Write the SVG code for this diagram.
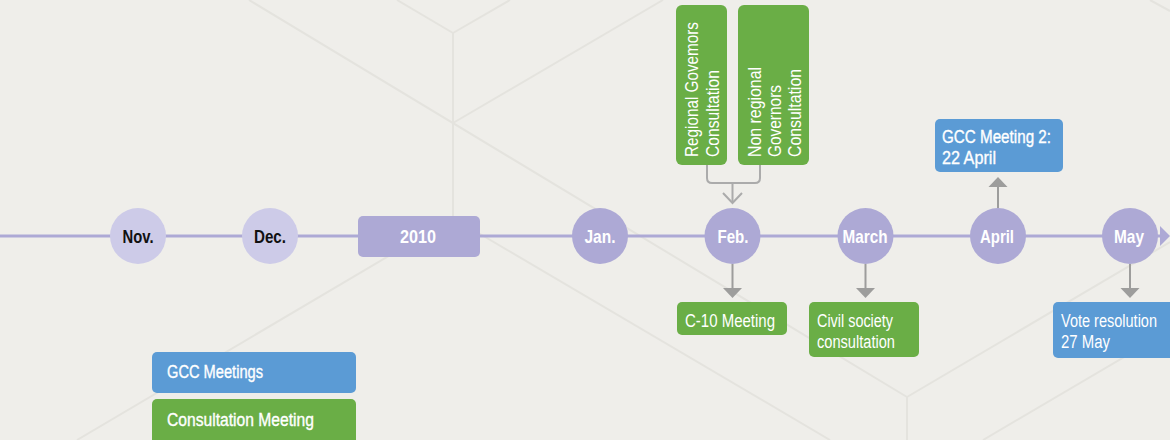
<svg xmlns="http://www.w3.org/2000/svg" width="1170" height="440" viewBox="0 0 1170 440">
<defs>
<style>
.bg{stroke:#E4E3DE;stroke-width:2;fill:none}
.tl{stroke:#ADA9D5;stroke-width:3;fill:none}
.m{fill:#ADA9D5}
.ml{fill:#CDCBE8}
.lbl{font-family:"Liberation Sans",Arial,sans-serif;font-weight:bold;font-size:18.5px;text-anchor:middle}
.w{fill:#FFFFFF}
.k{fill:#111111}
.green{fill:#6AAE46}
.blue{fill:#5B9BD5}
.t{font-family:"Liberation Sans",Arial,sans-serif;font-size:18px;fill:#FFFFFF}
.tb{font-family:"Liberation Sans",Arial,sans-serif;font-size:18px;fill:#FFFFFF;stroke:#FFFFFF;stroke-width:0.35}
.c{stroke:#9D9D9C;stroke-width:2;fill:none}
.ah{fill:#9D9D9C}
.oc{stroke:#ABABAB;stroke-width:2;fill:none}
</style>
</defs>
<rect x="0" y="0" width="1170" height="440" fill="#EFEEEA"/>
<g id="background">
<line class="bg" x1="249" y1="0" x2="907" y2="397"/>
<line class="bg" x1="397" y1="0" x2="453" y2="33"/>
<line class="bg" x1="453" y1="33" x2="510" y2="0"/>
<line class="bg" x1="453" y1="33" x2="453" y2="218"/>
<line class="bg" x1="453" y1="123" x2="663" y2="0"/>
<line class="bg" x1="453" y1="218" x2="77" y2="440"/>
<line class="bg" x1="453" y1="218" x2="830" y2="440"/>
<line class="bg" x1="907" y1="397" x2="907" y2="440"/>
<line class="bg" x1="907" y1="397" x2="1170" y2="242"/>
<line class="bg" x1="983" y1="440" x2="1170" y2="330"/>
<line class="bg" x1="1150" y1="0" x2="1170" y2="11"/>
</g>
<g id="connectors">
<line class="tl" x1="0" y1="236" x2="1162" y2="236"/>
<polygon class="m" points="1160,226 1170,236 1160,246"/>
<path class="oc" d="M707,165 V178 Q707,183 712,183 H755 Q760,183 760,178 V165"/>
<line class="oc" x1="732.5" y1="183" x2="732.5" y2="203"/>
<polyline class="oc" points="723,193 732.5,203 742,193"/>
<line class="c" x1="732.5" y1="264" x2="732.5" y2="289"/>
<polygon class="ah" points="723,288 742,288 732.5,298"/>
<line class="c" x1="865.5" y1="264" x2="865.5" y2="289"/>
<polygon class="ah" points="856,288 875,288 865.5,298"/>
<line class="c" x1="1130" y1="264" x2="1130" y2="289"/>
<polygon class="ah" points="1120.5,288 1139.5,288 1130,298"/>
<line class="c" x1="998" y1="208" x2="998" y2="186"/>
<polygon class="ah" points="988.5,187 1007.5,187 998,177"/>
</g>
<g id="nov"><circle class="ml" cx="138" cy="236" r="28"/><text class="lbl k" x="138" y="243" textLength="31" lengthAdjust="spacingAndGlyphs">Nov.</text></g>
<g id="dec"><circle class="ml" cx="270" cy="236" r="28"/><text class="lbl k" x="270" y="243" textLength="32" lengthAdjust="spacingAndGlyphs">Dec.</text></g>
<g id="y2010"><rect class="m" x="358" y="216" width="122" height="41" rx="5"/><text class="lbl w" x="418" y="243" textLength="36" lengthAdjust="spacingAndGlyphs">2010</text></g>
<g id="jan"><circle class="m" cx="600" cy="236" r="28"/><text class="lbl w" x="600" y="243" textLength="31" lengthAdjust="spacingAndGlyphs">Jan.</text></g>
<g id="feb"><circle class="m" cx="732.5" cy="236" r="28"/><text class="lbl w" x="733" y="243" textLength="31" lengthAdjust="spacingAndGlyphs">Feb.</text></g>
<g id="march"><circle class="m" cx="865.5" cy="236" r="28"/><text class="lbl w" x="865" y="243" textLength="45" lengthAdjust="spacingAndGlyphs">March</text></g>
<g id="april"><circle class="m" cx="998" cy="236" r="28"/><text class="lbl w" x="997" y="243" textLength="34" lengthAdjust="spacingAndGlyphs">April</text></g>
<g id="may"><circle class="m" cx="1130" cy="236" r="28"/><text class="lbl w" x="1129" y="243" textLength="30" lengthAdjust="spacingAndGlyphs">May</text></g>
<g id="regional">
<rect class="green" x="676" y="5" width="51" height="160" rx="6"/>
<text class="t" transform="translate(698,157) rotate(-90)"><tspan x="0" y="0" textLength="135" lengthAdjust="spacingAndGlyphs">Regional Govemors</tspan><tspan x="0" y="21" textLength="87" lengthAdjust="spacingAndGlyphs">Consultation</tspan></text>
</g>
<g id="nonregional">
<rect class="green" x="738" y="5" width="71" height="160" rx="6"/>
<text class="t" transform="translate(761,157) rotate(-90)"><tspan x="0" y="0" textLength="90" lengthAdjust="spacingAndGlyphs">Non regional</tspan><tspan x="0" y="20" textLength="72" lengthAdjust="spacingAndGlyphs">Governors</tspan><tspan x="0" y="40" textLength="88" lengthAdjust="spacingAndGlyphs">Consultation</tspan></text>
</g>
<g id="c10">
<rect class="green" x="677" y="302" width="110" height="33" rx="5"/>
<text class="t" x="685" y="327" textLength="90" lengthAdjust="spacingAndGlyphs">C-10 Meeting</text>
</g>
<g id="civil">
<rect class="green" x="809" y="302" width="110" height="55" rx="5"/>
<text class="t"><tspan x="817" y="327" textLength="76" lengthAdjust="spacingAndGlyphs">Civil society</tspan><tspan x="817" y="348" textLength="78" lengthAdjust="spacingAndGlyphs">consultation</tspan></text>
</g>
<g id="gcc2">
<rect class="blue" x="935" y="119" width="128" height="53" rx="5"/>
<text class="tb"><tspan x="942" y="143" textLength="109" lengthAdjust="spacingAndGlyphs">GCC Meeting 2:</tspan><tspan x="942" y="164" textLength="54" lengthAdjust="spacingAndGlyphs">22 April</tspan></text>
</g>
<g id="vote">
<rect class="blue" x="1053" y="302" width="125" height="56" rx="5"/>
<text class="t"><tspan x="1061" y="327" textLength="96" lengthAdjust="spacingAndGlyphs">Vote resolution</tspan><tspan x="1061" y="348" textLength="49" lengthAdjust="spacingAndGlyphs">27 May</tspan></text>
</g>
<g id="legend-gcc">
<rect class="blue" x="152" y="352" width="204" height="41" rx="5"/>
<text class="tb" x="167" y="378" textLength="96" lengthAdjust="spacingAndGlyphs">GCC Meetings</text>
</g>
<g id="legend-consultation">
<rect class="green" x="152" y="399" width="204" height="46" rx="5"/>
<text class="tb" x="167" y="426" textLength="147" lengthAdjust="spacingAndGlyphs">Consultation Meeting</text>
</g>
</svg>
